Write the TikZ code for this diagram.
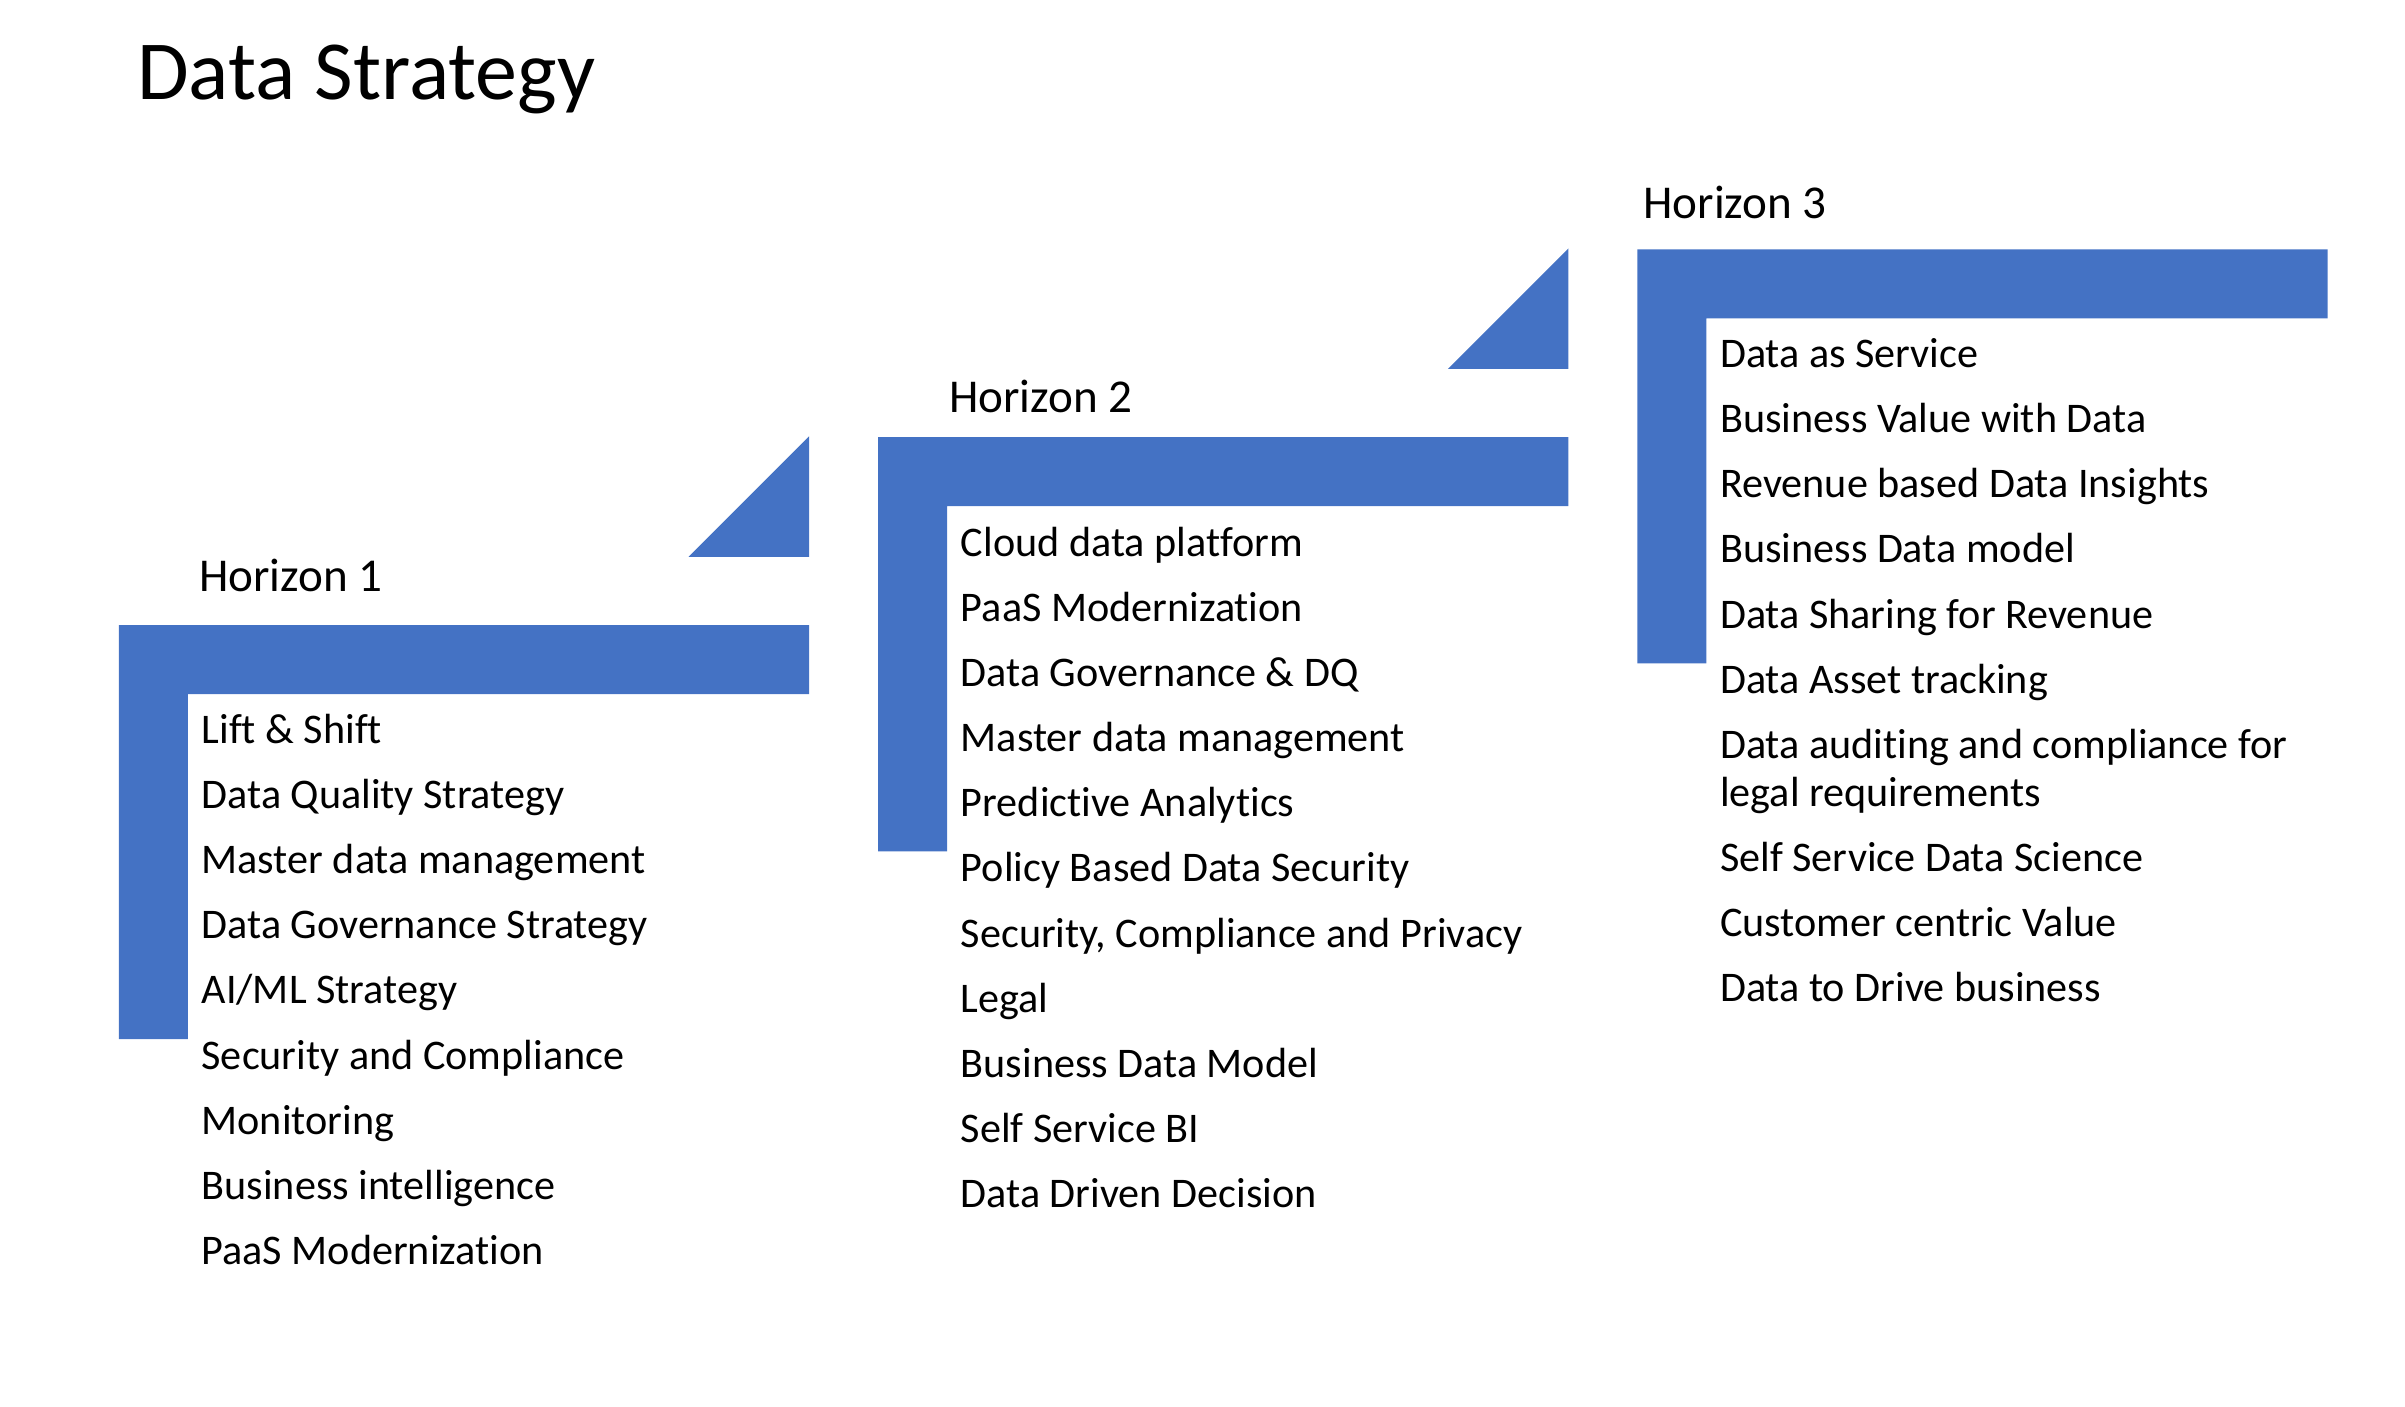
\documentclass[tikz,border=0pt]{standalone}
\usepackage{fontspec}
\setmainfont{Carlito}[Ligatures=NoCommon]
\definecolor{Office}{HTML}{4472C4}

\begin{document}
\begin{tikzpicture}[x=0.015338cm, y=-0.015338cm,
    bar/.style={fill=Office},
    title/.style={anchor=base west, inner sep=0pt, font=\fontsize{23.9}{28}\selectfont},
    horizon/.style={anchor=base west, inner sep=0pt, font=\fontsize{13.4}{16}\selectfont},
    item/.style={anchor=base west, inner sep=0pt, align=left, font=\fontsize{12}{13.5}\selectfont}
  ]
  \useasboundingbox (0,0) rectangle (1568,917);
  \node[title] (title) at (89,65) {Data Strategy};
  % L-shaped steps, one per horizon
  \foreach \k in {0,1,2} {
    \fill[bar, shift={(495*\k,-122.5*\k)}] (77.5,407.5) -- (527.5,407.5) -- (527.5,452.5)
      -- (122.5,452.5) -- (122.5,677.5) -- (77.5,677.5) -- cycle;
  }
  % wedges leading up to the next step
  \foreach \k in {0,1} {
    \fill[bar, shift={(495*\k,-122.5*\k)}] (527.5,284.5) -- (527.5,363) -- (449,363) -- cycle;
  }
  \node[horizon] (h1) at (129.5,385.5) {Horizon 1};
  \node[horizon] (h2) at (618.5,269) {Horizon 2};
  \node[horizon] (h3) at (1071,142.5) {Horizon 3};
  % Horizon 1
  \foreach \txt [count=\i] in {Lift \& Shift, Data Quality Strategy, Master data management,
      Data Governance Strategy, AI/ML Strategy, Security and Compliance, Monitoring,
      Business intelligence, PaaS Modernization}
    \node[item] (one-\i) at (131,{484.5+42.5*(\i-1)}) {\txt};
  % Horizon 2
  \foreach \txt [count=\i] in {Cloud data platform, PaaS Modernization, Data Governance \& DQ,
      Master data management, Predictive Analytics, Policy Based Data Security,
      {Security, Compliance and Privacy}, Legal, Business Data Model, Self Service BI,
      Data Driven Decision}
    \node[item] (two-\i) at (626,{362.5+42.5*(\i-1)}) {\txt};
  % Horizon 3
  \foreach \txt [count=\i] in {Data as Service, Business Value with Data, Revenue based Data Insights,
      Business Data model, Data Sharing for Revenue, Data Asset tracking}
    \node[item] (three-\i) at (1121,{239.5+42.5*(\i-1)}) {\txt};
  \node[item] (three-7) at (1121,525.5) {Data auditing and compliance for\\legal requirements};
  \foreach \txt [count=\i from 8] in {Self Service Data Science, Customer centric Value,
      Data to Drive business}
    \node[item] (three-\i) at (1121,{568+42.5*(\i-8)}) {\txt};
\end{tikzpicture}
\end{document}
